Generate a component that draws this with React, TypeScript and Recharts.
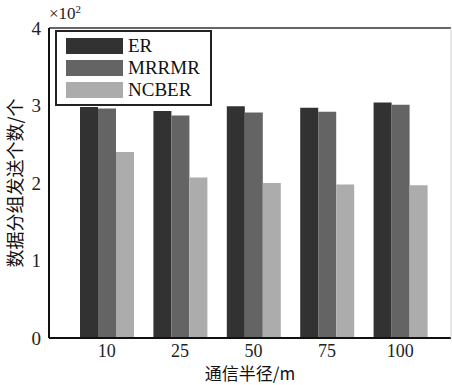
import React from "react";
import {
  BarChart, Bar, XAxis, YAxis, Legend, Label, ReferenceLine,
} from "recharts";

const radii = ["10", "25", "50", "75", "100"];
const er = [2.98, 2.93, 2.99, 2.97, 3.04];
const mrrmr = [2.96, 2.87, 2.91, 2.92, 3.01];
const ncber = [2.4, 2.07, 2.0, 1.98, 1.97];
const yTicks = [0, 1, 2, 3, 4];

const series = [
  { key: "ER", color: "#323232" },
  { key: "MRRMR", color: "#646464" },
  { key: "NCBER", color: "#acacac" },
];

const data = radii.map((r, i) => ({ r, ER: er[i], MRRMR: mrrmr[i], NCBER: ncber[i] }));

const FONT = "'Liberation Serif', 'Times New Roman', serif";
const CJK = "'Noto Sans CJK SC', sans-serif";

function LegendBox() {
  return (
    <div style={{ border: "2px solid #222", background: "#fff", padding: "3px 8px 3px 9px", fontFamily: FONT, fontSize: 19, lineHeight: "22px", color: "#111", textAlign: "left" }}>
      {series.map((s) => (
        <div key={s.key} style={{ display: "flex", alignItems: "center", height: 22 }}>
          <span style={{ display: "inline-block", width: 57, height: 16, background: s.color, marginRight: 5 }} />
          <span>{s.key}</span>
        </div>
      ))}
    </div>
  );
}

function ExpLabel(props: any) {
  const vb = props.viewBox || {};
  const x = vb.x + vb.width;
  const y = vb.y - 9;
  return (
    <text x={x} y={y} fontFamily={FONT} fontSize={17} fill="#222">
      ×10<tspan fontSize={11} dy={-6}>2</tspan>
    </text>
  );
}

export default function App() {
  return (
    <div style={{ position: "absolute", left: 0, top: 0, width: 452, height: 385, background: "#fff" }}>
      <BarChart width={452} height={385} data={data}
        margin={{ top: 28, right: 0, left: 0, bottom: 0 }}
        barCategoryGap={10} barGap={0}>
        <XAxis dataKey="r" padding={{ left: 21, right: 14 }} stroke="#111" strokeWidth={2}
          tickLine={false} tickMargin={0}
          tick={{ fontSize: 18, fontFamily: FONT, fill: "#222" }} height={47}>
          <Label value="通信半径/m" position="insideBottom" offset={5}
            style={{ fontSize: 17, fontFamily: CJK, fill: "#111" }} />
        </XAxis>
        <YAxis domain={[0, 4]} ticks={yTicks} width={49} stroke="#111" strokeWidth={2}
          tickLine={false} tickMargin={2} interval={0}
          tick={{ fontSize: 19, fontFamily: FONT, fill: "#222" }}>
          <Label value="数据分组发送个数/个" angle={-90} position="insideLeft" offset={16}
            style={{ fontSize: 18, fontFamily: CJK, fill: "#111", textAnchor: "middle" }} />
          <Label content={<ExpLabel />} />
        </YAxis>
        <YAxis yAxisId="r" orientation="right" width={1} domain={[0, 4]} tick={false}
          tickLine={false} stroke="#d0d0d0" />
        <ReferenceLine y={4} stroke="#333" strokeWidth={1.5} />
        <Legend content={<LegendBox />} layout="horizontal" verticalAlign="middle" align="center"
          wrapperStyle={{ left: 55, top: 30, width: 157 }} />
        {series.map((s) => (
          <Bar key={s.key} dataKey={s.key} fill={s.color} isAnimationActive={false} />
        ))}
      </BarChart>
    </div>
  );
}
